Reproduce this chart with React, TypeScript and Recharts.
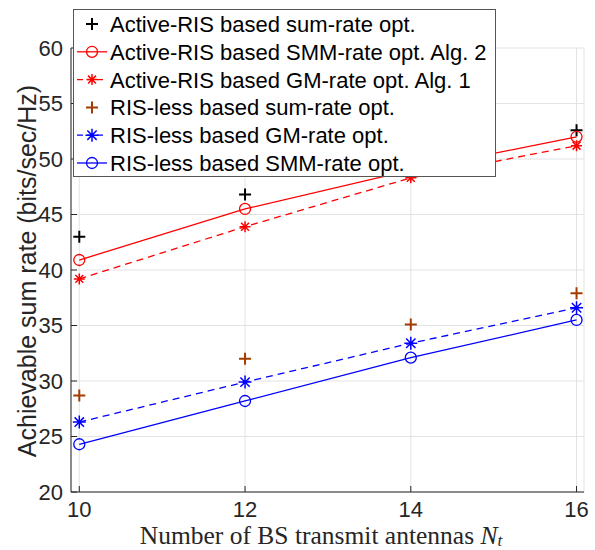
import React from 'react';
import { LineChart, Line, XAxis, YAxis, CartesianGrid, Legend, Label } from 'recharts';

// number of BS transmit antennas
const antennas = [10, 12, 14, 16];

// achievable sum rate (bits/sec/Hz)
const activeSumRate = [43.0, 46.8, 50.0, 52.6];
const activeSmmRate = [40.9, 45.5, 49.0, 52.0];
const activeGmRate = [39.2, 43.9, 48.3, 51.2];
const rislessSumRate = [28.7, 32.0, 35.1, 37.9];
const rislessGmRate = [26.3, 29.9, 33.4, 36.6];
const rislessSmmRate = [24.3, 28.2, 32.1, 35.5];

const xTicks = [10, 12, 14, 16];
const yTicks = [20, 25, 30, 35, 40, 45, 50, 55, 60];

const FONT = '"Liberation Sans", Arial, Helvetica, sans-serif';
const AXIS = '#262626';
const GRID = '#e3e3e3';
const RED = '#ff0000';
const BLUE = '#0000ff';
const BROWN = '#a23c00';

const PLOT = { left: 71, right: 584, top: 48, bottom: 492 };

type Marker = 'plus' | 'circle' | 'star';

interface SeriesDef {
  key: string;
  name: string;
  values: number[];
  color: string;
  marker: Marker;
  size: number;
  line: 'none' | 'solid' | 'dashed';
}

const series: SeriesDef[] = [
  { key: 'activeSum', name: 'Active-RIS based sum-rate opt.', values: activeSumRate, color: '#000000', marker: 'plus', size: 6, line: 'none' },
  { key: 'activeSmm', name: 'Active-RIS based SMM-rate opt. Alg. 2', values: activeSmmRate, color: RED, marker: 'circle', size: 5.5, line: 'solid' },
  { key: 'activeGm', name: 'Active-RIS based GM-rate opt. Alg. 1', values: activeGmRate, color: RED, marker: 'star', size: 5.5, line: 'dashed' },
  { key: 'rislessSum', name: 'RIS-less based sum-rate opt.', values: rislessSumRate, color: BROWN, marker: 'plus', size: 6, line: 'none' },
  { key: 'rislessGm', name: 'RIS-less based GM-rate opt.', values: rislessGmRate, color: BLUE, marker: 'star', size: 6.5, line: 'dashed' },
  { key: 'rislessSmm', name: 'RIS-less based SMM-rate opt.', values: rislessSmmRate, color: BLUE, marker: 'circle', size: 5.5, line: 'solid' },
];

const data = antennas.map((n, i) => {
  const row: Record<string, number> = { n };
  series.forEach((s) => {
    row[s.key] = s.values[i];
  });
  return row;
});

function MarkerShape({ type, cx, cy, color, size }: { type: Marker; cx: number; cy: number; color: string; size: number }) {
  if (type === 'circle') {
    return <circle cx={cx} cy={cy} r={size} fill="none" stroke={color} strokeWidth={1.3} />;
  }
  if (type === 'plus') {
    return (
      <path
        d={`M${cx - size},${cy}H${cx + size}M${cx},${cy - size}V${cy + size}`}
        stroke={color}
        strokeWidth={2}
        fill="none"
      />
    );
  }
  const d = size * 0.72;
  return (
    <path
      d={`M${cx - size},${cy}H${cx + size}M${cx},${cy - size}V${cy + size}M${cx - d},${cy - d}L${cx + d},${cy + d}M${cx - d},${cy + d}L${cx + d},${cy - d}`}
      stroke={color}
      strokeWidth={1.5}
      fill="none"
    />
  );
}

function makeDot(s: SeriesDef) {
  return (props: any) => {
    const { cx, cy, index } = props;
    if (cx == null || cy == null) return <g key={`${s.key}-${index}`} />;
    return (
      <g key={`${s.key}-${index}`}>
        <MarkerShape type={s.marker} cx={cx} cy={cy} color={s.color} size={s.size} />
      </g>
    );
  };
}

function XTick(props: any) {
  const { x, payload } = props;
  return (
    <g>
      <line x1={x} x2={x} y1={PLOT.bottom} y2={PLOT.bottom - 6} stroke={AXIS} strokeWidth={1} />
      <text x={x} y={516.5} textAnchor="middle" fontFamily={FONT} fontSize={22} fill={AXIS}>
        {payload.value}
      </text>
    </g>
  );
}

function XTopTick(props: any) {
  const { x } = props;
  return <line x1={x} x2={x} y1={PLOT.top} y2={PLOT.top + 6} stroke={AXIS} strokeWidth={1} />;
}

function YTick(props: any) {
  const { y, payload } = props;
  return (
    <g>
      <line x1={PLOT.left} x2={PLOT.left + 6} y1={y} y2={y} stroke={AXIS} strokeWidth={1} />
      <text x={63} y={y} dy="0.36em" textAnchor="end" fontFamily={FONT} fontSize={22} fill={AXIS}>
        {payload.value}
      </text>
    </g>
  );
}

function YRightTick(props: any) {
  const { y } = props;
  return <line x1={PLOT.right} x2={PLOT.right - 6} y1={y} y2={y} stroke={AXIS} strokeWidth={1} />;
}

function LegendBox() {
  const rowH = 27.8;
  return (
    <div
      style={{
        width: 423,
        height: 168,
        boxSizing: 'border-box',
        border: '1px solid #555',
        background: '#fff',
      }}
    >
      <svg width={421} height={166} style={{ display: 'block' }}>
        {series.map((s, i) => {
          const cy = 14 + i * rowH;
          return (
            <g key={s.key}>
              {s.line !== 'none' && (
                <line
                  x1={3}
                  x2={33}
                  y1={cy}
                  y2={cy}
                  stroke={s.color}
                  strokeWidth={1.3}
                  strokeDasharray={s.line === 'dashed' ? '6 4' : undefined}
                />
              )}
              <MarkerShape type={s.marker} cx={18} cy={cy} color={s.color} size={s.size} />
              <text x={36} y={cy} dy="0.36em" fontFamily={FONT} fontSize={22} fill="#000">
                {s.name}
              </text>
            </g>
          );
        })}
      </svg>
    </div>
  );
}

export default function App() {
  return (
    <div style={{ position: 'absolute', top: 0, left: 0, background: '#fff' }}>
      <LineChart width={595} height={550} data={data} margin={{ top: 48, right: 11, bottom: 0, left: 0 }}>
        <CartesianGrid stroke={GRID} strokeWidth={1} />
        <XAxis
          dataKey="n"
          type="number"
          domain={[9.9, 16.09]}
          ticks={xTicks}
          height={58}
          allowDataOverflow
          axisLine={{ stroke: AXIS, strokeWidth: 1 }}
          tickLine={false}
          tick={XTick}
        >
          <Label
            content={() => (
              <text x={321} y={544} textAnchor="middle" fontFamily='"Liberation Serif", "Times New Roman", serif' fontSize={25.5} fill={AXIS}>
                Number of BS transmit antennas{' '}
                <tspan fontStyle="italic">N</tspan>
                <tspan fontStyle="italic" fontSize={17} dy={1.5}>
                  t
                </tspan>
              </text>
            )}
          />
        </XAxis>
        <XAxis
          xAxisId="top"
          dataKey="n"
          type="number"
          orientation="top"
          domain={[9.9, 16.09]}
          ticks={xTicks}
          height={0}
          allowDataOverflow
          axisLine={{ stroke: AXIS, strokeWidth: 1 }}
          tickLine={false}
          tick={XTopTick}
        />
        <YAxis
          type="number"
          domain={[20, 60]}
          ticks={yTicks}
          width={71}
          allowDataOverflow
          axisLine={{ stroke: AXIS, strokeWidth: 1 }}
          tickLine={false}
          tick={YTick}
        >
          <Label
            content={() => (
              <text
                x={36}
                y={271}
                transform="rotate(-90, 36, 271)"
                textAnchor="middle"
                fontFamily={FONT}
                fontSize={25}
                fill={AXIS}
              >
                Achievable sum rate (bits/sec/Hz)
              </text>
            )}
          />
        </YAxis>
        <YAxis
          yAxisId="right"
          type="number"
          orientation="right"
          domain={[20, 60]}
          ticks={yTicks}
          width={0}
          allowDataOverflow
          axisLine={{ stroke: AXIS, strokeWidth: 1 }}
          tickLine={false}
          tick={YRightTick}
        />
        {series.map((s) => (
          <Line
            key={s.key}
            dataKey={s.key}
            name={s.name}
            type="linear"
            stroke={s.line === 'none' ? 'none' : s.color}
            strokeWidth={1.3}
            strokeDasharray={s.line === 'dashed' ? '7 5' : undefined}
            dot={makeDot(s)}
            activeDot={false}
            isAnimationActive={false}
          />
        ))}
        <Legend
          layout="vertical"
          align="center"
          verticalAlign="middle"
          content={() => <LegendBox />}
          wrapperStyle={{ position: 'absolute', top: 9, left: 73, width: 423, height: 168 }}
        />
      </LineChart>
    </div>
  );
}
